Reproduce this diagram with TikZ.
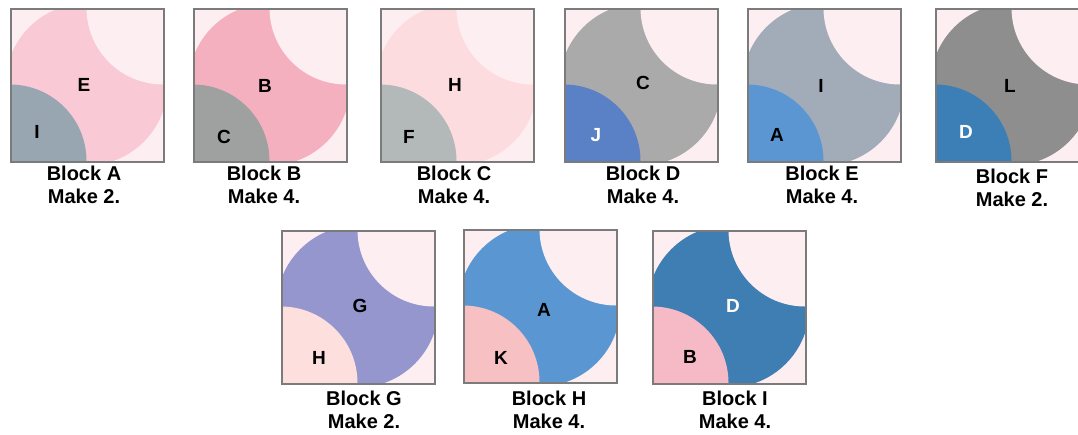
\documentclass[tikz,border=0pt]{standalone}
\usepackage{fontspec}
\setmainfont{Liberation Sans}
\definecolor{bgpink}{HTML}{FDEEF2}
\definecolor{bordergray}{HTML}{7B7B7B}
\definecolor{cAE}{HTML}{F9C9D5}\definecolor{cAI}{HTML}{98A6B2}
\definecolor{cBB}{HTML}{F5B0BF}\definecolor{cBC}{HTML}{9FA0A0}
\definecolor{cCH}{HTML}{FDDCE0}\definecolor{cCF}{HTML}{B3B9B9}
\definecolor{cDC}{HTML}{AAAAAA}\definecolor{cDJ}{HTML}{5A80C6}
\definecolor{cEI}{HTML}{A2ACB8}\definecolor{cEA}{HTML}{5C96D2}
\definecolor{cFL}{HTML}{8E8E8E}\definecolor{cFD}{HTML}{3C7FB6}
\definecolor{cGG}{HTML}{9596CE}\definecolor{cGH}{HTML}{FDE0DE}
\definecolor{cHA}{HTML}{5A97D2}\definecolor{cHK}{HTML}{F7C0C2}
\definecolor{cID}{HTML}{3F7EB2}\definecolor{cIB}{HTML}{F6B9C6}
\tikzset{
  sqframe/.style={draw=bordergray, line width=1.5pt, minimum size=153pt, inner sep=0pt, anchor=north west},
  piece/.style={font=\bfseries\fontsize{19}{19}\selectfont, inner sep=0pt},
  lbl/.style={font=\bfseries\fontsize{20}{23}\selectfont, anchor=base, inner sep=0pt},
}
% #1 name, #2 x, #3 y (top-left, pixels), #4 big colour, #5 small colour
\newcommand\qblock[5]{%
  \begin{scope}[shift={(#2,#3)}]
    \begin{scope}
      \clip (0,0) rectangle (153,153);
      \fill[bgpink] (0,0) rectangle (153,153);
      \fill[#4] (76.5,76.5) circle (81pt);
      \fill[#5] (0,153) circle (76.5pt);
      \fill[bgpink] (153,0) circle (76.5pt);
    \end{scope}
  \end{scope}
  \node[sqframe] (#1) at (#2,#3) {};
}
\begin{document}
\begin{tikzpicture}[x=1pt,y=-1pt]
\useasboundingbox[fill=white] (0,0) rectangle (1078,434);
% top row
\qblock{bA}{10}{8}{cAE}{cAI}
\qblock{bB}{193}{8}{cBB}{cBC}
\qblock{bC}{380}{8}{cCH}{cCF}
\qblock{bD}{564}{8}{cDC}{cDJ}
\qblock{bE}{747}{8}{cEI}{cEA}
\qblock{bF}{935}{8}{cFL}{cFD}
% bottom row
\qblock{bG}{281}{230}{cGG}{cGH}
\qblock{bH}{463}{229}{cHA}{cHK}
\qblock{bI}{652}{230}{cID}{cIB}
% piece letters
\node[piece] (pAE) at (84,85) {E};
\node[piece] (pAI) at (37,132) {I};
\node[piece] (pBB) at (265,86) {B};
\node[piece] (pBC) at (224,137) {C};
\node[piece] (pCH) at (455,85) {H};
\node[piece] (pCF) at (409,137) {F};
\node[piece] (pDC) at (643,83) {C};
\node[piece,text=white] (pDJ) at (596,135) {J};
\node[piece] (pEI) at (821,86) {I};
\node[piece] (pEA) at (777,135) {A};
\node[piece] (pFL) at (1010,86) {L};
\node[piece,text=white] (pFD) at (966,132) {D};
\node[piece] (pGG) at (360,306) {G};
\node[piece] (pGH) at (319,358) {H};
\node[piece] (pHA) at (544,310) {A};
\node[piece] (pHK) at (501,358) {K};
\node[piece,text=white] (pID) at (733,306) {D};
\node[piece] (pIB) at (690,357) {B};
% labels
\node[lbl] (lA1) at (84,180) {Block A};  \node[lbl] (lA2) at (84,203) {Make 2.};
\node[lbl] (lB1) at (264,180) {Block B}; \node[lbl] (lB2) at (264,203) {Make 4.};
\node[lbl] (lC1) at (454,180) {Block C}; \node[lbl] (lC2) at (454,203) {Make 4.};
\node[lbl] (lD1) at (643,180) {Block D}; \node[lbl] (lD2) at (643,203) {Make 4.};
\node[lbl] (lE1) at (822,180) {Block E}; \node[lbl] (lE2) at (822,203) {Make 4.};
\node[lbl] (lF1) at (1012,183) {Block F}; \node[lbl] (lF2) at (1012,206) {Make 2.};
\node[lbl] (lG1) at (364,405) {Block G}; \node[lbl] (lG2) at (364,428) {Make 2.};
\node[lbl] (lH1) at (549,405) {Block H}; \node[lbl] (lH2) at (549,428) {Make 4.};
\node[lbl] (lI1) at (735,405) {Block I}; \node[lbl] (lI2) at (735,428) {Make 4.};
% caption, cut by the lower edge as in the reference
\node[anchor=base west, inner sep=0pt, font=\itshape\fontsize{21}{21}\selectfont] (fig) at (6,451) {Figure 2};
\end{tikzpicture}
\end{document}
